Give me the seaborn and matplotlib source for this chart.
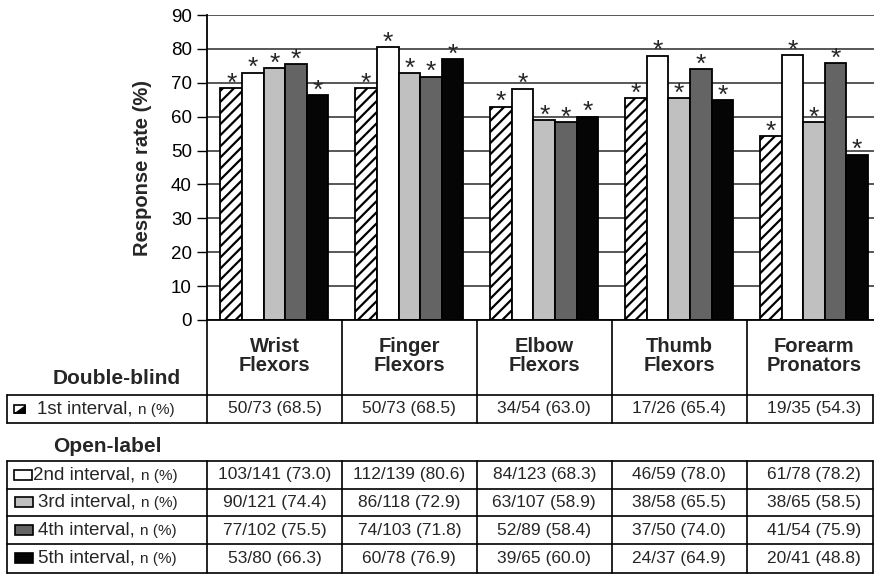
import matplotlib
matplotlib.use("Agg")
import matplotlib.pyplot as plt
import matplotlib.transforms as mtransforms
from matplotlib.patches import Rectangle, Polygon
import numpy as np
import pandas as pd
import seaborn as sns

muscles = ["Wrist\nFlexors", "Finger\nFlexors", "Elbow\nFlexors", "Thumb\nFlexors", "Forearm\nPronators"]
intervals = ["1st interval", "2nd interval", "3rd interval", "4th interval", "5th interval"]
responders = [[50, 50, 34, 17, 19],
              [103, 112, 84, 46, 61],
              [90, 86, 63, 38, 38],
              [77, 74, 52, 37, 41],
              [53, 60, 39, 24, 20]]
totals = [[73, 73, 54, 26, 35],
          [141, 139, 123, 59, 78],
          [121, 118, 107, 58, 65],
          [102, 103, 89, 50, 54],
          [80, 78, 65, 37, 41]]
pct = [[68.5, 68.5, 63.0, 65.4, 54.3],
       [73.0, 80.6, 68.3, 78.0, 78.2],
       [74.4, 72.9, 58.9, 65.5, 58.5],
       [75.5, 71.8, 58.4, 74.0, 75.9],
       [66.3, 76.9, 60.0, 64.9, 48.8]]
colors = ["#ffffff", "#ffffff", "#c0c0c0", "#646464", "#050505"]

rows = []
for i, iv in enumerate(intervals):
    for j, m in enumerate(muscles):
        rows.append({"muscle": m, "interval": iv, "pct": pct[i][j]})
df = pd.DataFrame(rows)

sns.set_theme(style="white")
plt.rcParams['font.family'] = ['Liberation Sans', 'DejaVu Sans']
plt.rcParams['hatch.linewidth'] = 1.6

W, H = 874, 574
fig = plt.figure(figsize=(W / 100, H / 100), dpi=100)
ax = fig.add_axes([207 / W, 254 / H, 674.5 / W, 305 / H])

sns.barplot(data=df, x="muscle", y="pct", hue="interval", palette=colors,
            edgecolor="black", linewidth=1.3, ax=ax, legend=False, saturation=1)
for p in ax.containers[0]:
    p.set_hatch("///")
for c in ax.containers:
    ax.bar_label(c, labels=["*"] * len(c), padding=-5.5, fontsize=19)

ax.set_xlim(-0.5, 4.5)
ax.set_ylim(0, 90)
ax.set_yticks(range(0, 91, 10))
ax.tick_params(axis="y", labelsize=13.5, length=7, width=1, pad=4, colors="black", left=True)
ax.tick_params(axis="x", length=0, labelbottom=False)
ax.set_xlabel("")
ax.set_ylabel("")
ax.yaxis.grid(True, color="#2a2a2a", lw=1.1)
ax.set_axisbelow(True)
for s in ["top", "right"]:
    ax.spines[s].set_visible(False)
for s in ["left", "bottom"]:
    ax.spines[s].set_color("black")
    ax.spines[s].set_linewidth(1.3)
ax.text(-0.095, 0.5, "Response rate (%)", transform=ax.transAxes, rotation=90,
        ha="center", va="center", fontsize=14.5, fontweight="bold")

# table overlay in pixel coordinates
tab = fig.add_axes([0, 0, 1, 1], zorder=5)
tab.set_xlim(0, W)
tab.set_ylim(H, 0)
tab.axis("off")
tab.patch.set_alpha(0)
bt = mtransforms.blended_transform_factory(ax.transData, tab.transData)

lw = 1.2
xl, xr = 7, 873
bounds = np.arange(len(muscles) + 1) - 0.5
# header row
for b in bounds:
    tab.plot([b, b], [320, 423], color="black", lw=lw, transform=bt)
    tab.plot([b, b], [461, 573], color="black", lw=lw, transform=bt)
for j, m in enumerate(muscles):
    tab.text(j, 356, m, transform=bt, ha="center", va="center", fontsize=14.5,
             fontweight="bold", linespacing=1.05)

row_y = [395, 423]
row_y2 = [461, 488.5, 516, 544, 572.5]
for y in row_y + row_y2:
    tab.plot([xl, xr], [y, y], color="black", lw=lw)
for y0, y1 in [(395, 423), (461, 572.5)]:
    tab.plot([xl, xl], [y0, y1], color="black", lw=lw)
    tab.plot([xr, xr], [y0, y1], color="black", lw=lw)

tab.text(117, 379, "Double-blind", ha="center", va="center", fontsize=15, fontweight="bold")
tab.text(107, 446, "Open-label", ha="center", va="center", fontsize=15, fontweight="bold")

centers = [409] + [(row_y2[k] + row_y2[k + 1]) / 2 for k in range(4)]
sq = [(14, 11, 8), (14, 18, 10), (15, 18, 10), (15, 18, 10), (15, 18, 10)]
tx = [37, 33, 38, 38, 38]
for i, iv in enumerate(intervals):
    yc = centers[i]
    x0, w, h = sq[i]
    tab.add_patch(Rectangle((x0, yc - h / 2), w, h, facecolor=colors[i],
                            edgecolor="black", lw=1.2))
    if i == 0:
        tab.add_patch(Polygon([(x0 + w, yc - h / 2), (x0 + w, yc + h / 2), (x0, yc + h / 2)],
                              closed=True, facecolor="black", edgecolor="black", lw=0.5))
    t1 = tab.text(tx[i], yc, iv + ",", ha="left", va="center", fontsize=13.5)
    tab.annotate("n (%)", xy=(1, 0), xycoords=t1, xytext=(4, 0.5),
                 textcoords="offset points", ha="left", va="bottom", fontsize=11)
    for j in range(len(muscles)):
        tab.text(j, yc, "%d/%d (%.1f)" % (responders[i][j], totals[i][j], pct[i][j]),
                 transform=bt, ha="center", va="center", fontsize=12.5)

fig.savefig("out.png", dpi=100)
